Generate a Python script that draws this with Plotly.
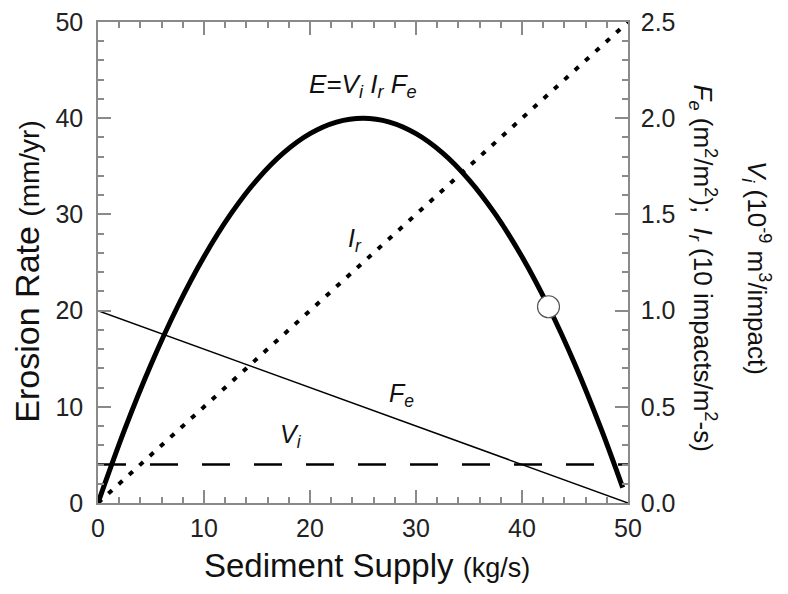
import plotly.graph_objects as go

# ---- data ----
supply = [0, 2.5, 5, 7.5, 10, 12.5, 15, 17.5, 20, 22.5, 25, 27.5, 30, 32.5, 35,
          37.5, 40, 42.5, 45, 47.5, 49.5]
erosion = [0, 7.6, 14.4, 20.4, 25.6, 30.0, 33.6, 36.4, 38.4, 39.6, 40.0, 39.6,
           38.4, 36.4, 33.6, 30.0, 25.6, 20.4, 14.4, 7.6, 1.6]
ir_x = [0, 50]
ir_y = [0.0, 2.5]          # right axis
fe_x = [0, 50]
fe_y = [1.0, 0.0]          # right axis
vi_x = [0, 50]
vi_y = [0.2, 0.2]          # right axis
marker_x = [42.5]
marker_y = [20.4]

FONT = "Liberation Sans, Arial, sans-serif"
AX = "#8a8a8a"

fig = go.Figure()
fig.add_trace(go.Scatter(x=ir_x, y=ir_y, yaxis="y2", mode="lines",
                         line=dict(color="black", width=4, dash="5px,9px")))
fig.add_trace(go.Scatter(x=fe_x, y=fe_y, yaxis="y2", mode="lines",
                         line=dict(color="black", width=1.5)))
fig.add_trace(go.Scatter(x=vi_x, y=vi_y, yaxis="y2", mode="lines",
                         line=dict(color="black", width=2.5, dash="28px,24px")))
fig.add_trace(go.Scatter(x=supply, y=erosion, mode="lines", line_shape="spline",
                         line=dict(color="black", width=5)))
fig.add_trace(go.Scatter(x=marker_x, y=marker_y, mode="markers",
                         marker=dict(size=22, color="white",
                                     line=dict(color="#555", width=1.2))))

tickfont = dict(family=FONT, size=25, color="#222")
fig.update_layout(
    width=780, height=586, showlegend=False,
    paper_bgcolor="white", plot_bgcolor="white",
    margin=dict(l=90, r=160, t=14, b=91),
    xaxis=dict(range=[0, 50], dtick=10, ticks="inside", ticklen=13, tickwidth=1.5,
               tickcolor=AX, showline=True, linecolor=AX, linewidth=1.5,
               mirror="ticks", showgrid=False, zeroline=False, tickfont=tickfont,
               automargin=False, ticklabelstandoff=2, ticklabeloverflow="allow",
               minor=dict(dtick=2, ticks="inside", ticklen=6, tickcolor=AX)),
    yaxis=dict(range=[0, 50], dtick=10, ticks="inside", ticklen=13, tickwidth=1.5,
               tickcolor=AX, showline=True, linecolor=AX, linewidth=1.5,
               showgrid=False, zeroline=False, tickfont=tickfont,
               automargin=False, ticklabelstandoff=8, ticklabeloverflow="allow",
               minor=dict(dtick=2, ticks="inside", ticklen=6, tickcolor=AX)),
    yaxis2=dict(range=[0, 2.5], dtick=0.5, tickformat=".1f", overlaying="y", side="right",
                ticks="inside", ticklen=13, tickwidth=1.5, tickcolor=AX,
                showline=True, linecolor=AX, linewidth=1.5, showgrid=False,
                zeroline=False, tickfont=tickfont,
                automargin=False, ticklabelstandoff=6, ticklabeloverflow="allow",
                minor=dict(dtick=0.1, ticks="inside", ticklen=6, tickcolor=AX)),
)

def ann(text, x, y, size=25, xref="x", yref="y", angle=0, italic=True):
    fig.add_annotation(text=text, x=x, y=y, xref=xref, yref=yref, showarrow=False,
                       textangle=angle,
                       font=dict(family=FONT, size=size, color="#111",
                                 style="italic" if italic else "normal"))

ann("E=V<sub>i</sub> I<sub>r</sub> F<sub>e</sub>", 25.0, 43.4, size=26)
ann("I<sub>r</sub>", 24.2, 27.3)
ann("F<sub>e</sub>", 28.6, 11.2)
ann("V<sub>i</sub>", 18.2, 7.0)

# axis titles
fig.add_annotation(text='Sediment Supply <span style="font-size:27px">(kg/s)</span>',
                   x=0.508, y=-0.129, xref="paper", yref="paper", showarrow=False,
                   xanchor="center", yanchor="middle",
                   font=dict(family=FONT, size=33, color="#111"))
fig.add_annotation(text='Erosion Rate <span style="font-size:28px">(mm/yr)</span>',
                   x=-0.133, y=0.48, xref="paper", yref="paper", showarrow=False,
                   textangle=-90, xanchor="center", yanchor="middle",
                   font=dict(family=FONT, size=34, color="#111"))
fig.add_annotation(text='<i>F<sub>e</sub></i> (m<sup>2</sup>/m<sup>2</sup>);  <i>I<sub>r</sub></i> (10 impacts/m<sup>2</sup>-s)',
                   x=1.142, y=0.489, xref="paper", yref="paper", showarrow=False,
                   textangle=90, xanchor="center", yanchor="middle",
                   font=dict(family=FONT, size=26, color="#111"))
fig.add_annotation(text='<i>V<sub>i</sub></i> (10<sup>-9</sup> m<sup>3</sup>/impact)',
                   x=1.243, y=0.489, xref="paper", yref="paper", showarrow=False,
                   textangle=90, xanchor="center", yanchor="middle",
                   font=dict(family=FONT, size=26, color="#111"))

fig.write_html("out.html")
